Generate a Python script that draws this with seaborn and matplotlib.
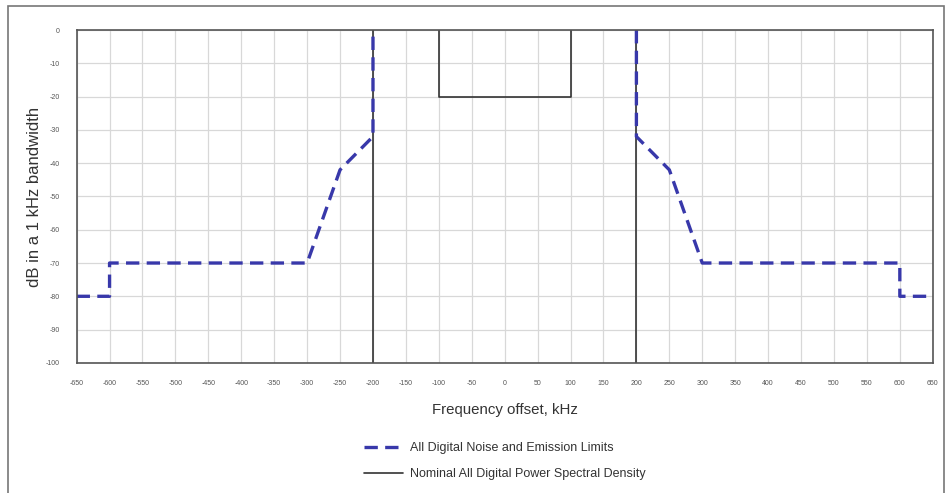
import pandas as pd
import matplotlib.pyplot as plt
import seaborn as sns
from matplotlib.lines import Line2D
from matplotlib.patches import Rectangle

# emission limit mask (kHz offset, dB), left and right halves
mask_freq = [-650, -600, -600, -300, -250, -200, -200, 200, 200, 250, 300, 600, 600, 650]
mask_db = [-80, -80, -70, -70, -42, -32, 0, 0, -32, -42, -70, -70, -80, -80]
mask_seg = [1, 1, 1, 1, 1, 1, 1, 2, 2, 2, 2, 2, 2, 2]

# nominal power spectral density, drawn as separate segments
psd_freq = [-200, -200, -100, -100, 100, 100, 200, 200]
psd_db = [-100, 0, 0, -20, -20, 0, 0, -100]
psd_seg = [1, 1, 2, 2, 2, 2, 3, 3]

x_ticks = list(range(-650, 651, 50))
y_ticks = list(range(-100, 1, 10))

sns.set_style("whitegrid")
plt.rcParams['font.family'] = ['Liberation Sans', 'DejaVu Sans']
plt.rcParams['axes.unicode_minus'] = False

fig = plt.figure(figsize=(9.46, 4.93), dpi=100)
ax = fig.add_axes([0.081, 0.264, 0.905, 0.675])

mask_df = pd.DataFrame({'freq': mask_freq, 'db': mask_db, 'seg': mask_seg})
psd_df = pd.DataFrame({'freq': psd_freq, 'db': psd_db, 'seg': psd_seg})

sns.lineplot(data=psd_df, x='freq', y='db', units='seg', estimator=None, sort=False,
             color='#333333', linewidth=1.2, ax=ax)
sns.lineplot(data=mask_df, x='freq', y='db', units='seg', estimator=None, sort=False,
             color='#3838aa', linewidth=2.4, linestyle=(0, (4, 2.2)), ax=ax)

ax.set_xlim(-650, 650)
ax.set_ylim(-100, 0)
ax.set_xticks(x_ticks)
ax.set_yticks(y_ticks)
ax.tick_params(axis='both', labelsize=5, colors='#555555', length=0, pad=12)
ax.grid(True, color='#d8d8d8', linewidth=0.9)
for s in ax.spines.values():
    s.set_color('#555555')
    s.set_linewidth(1.2)
ax.set_xlabel("Frequency offset, kHz", fontsize=10.8, color='#333333', labelpad=12)
ax.set_ylabel("dB in a 1 kHz bandwidth", fontsize=12, color='#333333', labelpad=3)

handles = [Line2D([], [], color='#3838aa', linewidth=2.4, linestyle=(0, (4, 2.2))),
           Line2D([], [], color='#333333', linewidth=1.2)]
labels = ["All Digital Noise and Emission Limits", "Nominal All Digital Power Spectral Density"]
fig.legend(handles, labels, loc='upper center', bbox_to_anchor=(0.534, 0.126), frameon=False,
           fontsize=9, handlelength=3.1, handletextpad=0.6, labelspacing=1.1,
           labelcolor='#333333')

# outer frame of the original figure
fig.patches.append(Rectangle((0.008, -0.01), 0.99, 0.997, transform=fig.transFigure,
                             fill=False, edgecolor='#777777', linewidth=1.2))

fig.savefig('out.png', dpi=100)
